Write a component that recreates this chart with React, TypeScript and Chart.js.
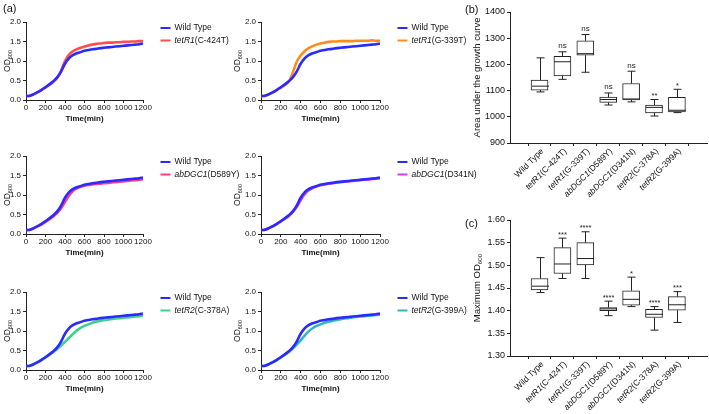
import React, { useEffect, useRef } from "react";
import { Chart, registerables } from "chart.js";
Chart.register(...registerables);

const FONT = "'Liberation Sans', Arial, Helvetica, sans-serif";
const INK = "#111";

// ---------- growth curve data (OD600 vs time) ----------
const timeMin = [0, 40, 80, 120, 160, 200, 240, 280, 320, 360, 400, 440, 480, 520, 560, 600, 640, 680, 720, 760, 800, 840, 880, 920, 960, 1000, 1040, 1080, 1120, 1160, 1200];
const wildType = [0.10, 0.11, 0.15, 0.20, 0.26, 0.33, 0.40, 0.48, 0.58, 0.73, 0.93, 1.07, 1.15, 1.20, 1.23, 1.26, 1.28, 1.30, 1.31, 1.33, 1.34, 1.35, 1.36, 1.37, 1.38, 1.39, 1.40, 1.41, 1.42, 1.43, 1.45];
const tetR1C424T = [0.10, 0.11, 0.15, 0.20, 0.26, 0.32, 0.39, 0.47, 0.57, 0.75, 1.00, 1.16, 1.25, 1.30, 1.34, 1.37, 1.40, 1.42, 1.44, 1.45, 1.46, 1.47, 1.47, 1.48, 1.48, 1.49, 1.49, 1.50, 1.50, 1.51, 1.51];
const tetR1G339T = [0.10, 0.11, 0.14, 0.19, 0.25, 0.31, 0.38, 0.47, 0.70, 0.98, 1.14, 1.25, 1.33, 1.38, 1.42, 1.45, 1.47, 1.49, 1.50, 1.50, 1.51, 1.51, 1.51, 1.51, 1.52, 1.52, 1.52, 1.52, 1.53, 1.52, 1.52];
const abDGC1D589Y = [0.10, 0.11, 0.15, 0.20, 0.25, 0.31, 0.38, 0.45, 0.54, 0.66, 0.82, 0.98, 1.10, 1.17, 1.21, 1.24, 1.26, 1.27, 1.28, 1.29, 1.30, 1.31, 1.32, 1.33, 1.34, 1.35, 1.36, 1.37, 1.38, 1.39, 1.40];
const abDGC1D341N = [0.10, 0.11, 0.15, 0.20, 0.26, 0.32, 0.39, 0.46, 0.56, 0.69, 0.87, 1.02, 1.12, 1.18, 1.22, 1.25, 1.27, 1.29, 1.30, 1.32, 1.33, 1.34, 1.35, 1.36, 1.37, 1.38, 1.39, 1.40, 1.41, 1.42, 1.43];
const tetR2C378A = [0.10, 0.11, 0.15, 0.20, 0.26, 0.32, 0.39, 0.46, 0.54, 0.63, 0.72, 0.82, 0.92, 1.01, 1.08, 1.13, 1.17, 1.21, 1.24, 1.26, 1.28, 1.29, 1.31, 1.32, 1.33, 1.34, 1.35, 1.36, 1.37, 1.38, 1.39];
const tetR2G399A = [0.10, 0.11, 0.15, 0.20, 0.26, 0.32, 0.39, 0.46, 0.55, 0.65, 0.76, 0.88, 0.99, 1.07, 1.13, 1.17, 1.21, 1.24, 1.26, 1.28, 1.30, 1.32, 1.33, 1.35, 1.36, 1.37, 1.38, 1.39, 1.40, 1.41, 1.42];

const mutantNames = ["tetR1(C-424T)", "tetR1(G-339T)", "abDGC1(D589Y)", "abDGC1(D341N)", "tetR2(C-378A)", "tetR2(G-399A)"];
const mutantSeries = [tetR1C424T, tetR1G339T, abDGC1D589Y, abDGC1D341N, tetR2C378A, tetR2G399A];
const mutantColors = ["#ff4d4d", "#ff8c1a", "#ff3d80", "#d43de8", "#3ccf8e", "#2fb6c4"];
const wildTypeColor = "#2a2aff";
const timeTicks = [0, 200, 400, 600, 800, 1000, 1200];
const odTicks = [0, 0.5, 1.0, 1.5, 2.0];

// ---------- box plot data ----------
const strains = ["Wild Type", "tetR1(C-424T)", "tetR1(G-339T)", "abDGC1(D589Y)", "abDGC1(D341N)", "tetR2(C-378A)", "tetR2(G-399A)"];

const aucMin = [1095, 1143, 1170, 1045, 1057, 1003, 1016];
const aucQ1 = [1102, 1156, 1235, 1055, 1064, 1015, 1019];
const aucMedian = [1117, 1210, 1241, 1066, 1068, 1036, 1025];
const aucQ3 = [1140, 1231, 1290, 1075, 1127, 1045, 1074];
const aucMax = [1225, 1248, 1314, 1091, 1174, 1066, 1105];
const aucSig = ["", "ns", "ns", "ns", "ns", "**", "*"];
const aucTicks = [900, 1000, 1100, 1200, 1300, 1400];

const maxMin = [1.440, 1.471, 1.471, 1.389, 1.409, 1.357, 1.374];
const maxQ1 = [1.446, 1.482, 1.501, 1.400, 1.412, 1.385, 1.401];
const maxMedian = [1.454, 1.503, 1.515, 1.404, 1.425, 1.392, 1.413];
const maxQ3 = [1.471, 1.539, 1.550, 1.407, 1.444, 1.403, 1.431];
const maxMax = [1.517, 1.560, 1.574, 1.421, 1.474, 1.409, 1.442];
const maxSig = ["", "***", "****", "****", "*", "****", "***"];
const maxTicks = [1.30, 1.35, 1.40, 1.45, 1.50, 1.55, 1.60];

// ---------- text helpers ----------
function splitName(name: string) {
  const m = /^([A-Za-z0-9]+)(\(.*\))$/.exec(name);
  if (m) return { it: m[1], rest: m[2] };
  return { it: "", rest: name };
}

function drawMixed(ctx: CanvasRenderingContext2D, name: string, x: number, y: number, size: number, align: "left" | "right") {
  const { it, rest } = splitName(name);
  const fi = `italic ${size}px ${FONT}`;
  const fn = `${size}px ${FONT}`;
  ctx.font = fi;
  const wi = it ? ctx.measureText(it).width : 0;
  ctx.font = fn;
  const wr = ctx.measureText(rest).width;
  const start = align === "left" ? x : x - wi - wr;
  ctx.textAlign = "left";
  ctx.textBaseline = "middle";
  if (it) {
    ctx.font = fi;
    ctx.fillText(it, start, y);
  }
  ctx.font = fn;
  ctx.fillText(rest, start + wi, y);
}

function drawSubTitle(ctx: CanvasRenderingContext2D, main: string, sub: string, cx: number, cy: number, size: number) {
  ctx.save();
  ctx.translate(cx, cy);
  ctx.rotate(-Math.PI / 2);
  ctx.fillStyle = INK;
  ctx.textBaseline = "middle";
  ctx.textAlign = "left";
  const fm = `${size}px ${FONT}`;
  const fs = `${Math.round(size * 0.65 * 10) / 10}px ${FONT}`;
  ctx.font = fm;
  const wm = ctx.measureText(main).width;
  ctx.font = fs;
  const ws = ctx.measureText(sub).width;
  const start = -(wm + ws) / 2;
  ctx.font = fm;
  ctx.fillText(main, start, 0);
  ctx.font = fs;
  ctx.fillText(sub, start + wm, size * 0.3);
  ctx.restore();
}

// ---------- plugins ----------
const growthDecor = {
  id: "growthDecor",
  afterDraw(chart: any, _a: any, opts: any) {
    const ctx = chart.ctx as CanvasRenderingContext2D;
    const ca = chart.chartArea;
    ctx.save();
    drawSubTitle(ctx, "OD", "600", opts.titleX, (ca.top + ca.bottom) / 2, 8.5);
    chart.data.datasets.forEach((ds: any, i: number) => {
      const y = ca.top + 6 + i * 12.5;
      const x0 = ca.right + 17.5;
      ctx.strokeStyle = ds.borderColor;
      ctx.lineWidth = 2;
      ctx.beginPath();
      ctx.moveTo(x0, y);
      ctx.lineTo(x0 + 10, y);
      ctx.stroke();
      ctx.fillStyle = INK;
      drawMixed(ctx, ds.label, x0 + 14, y, 8.5, "left");
    });
    ctx.restore();
  },
};

const boxDecor = {
  id: "boxDecor",
  afterDatasetsDraw(chart: any, _a: any, opts: any) {
    const ctx = chart.ctx as CanvasRenderingContext2D;
    const xs = chart.scales.x;
    const ys = chart.scales.y;
    const { mins, medians, q1s, q3s, maxs, sig } = opts;
    ctx.save();
    ctx.strokeStyle = "#222";
    ctx.lineWidth = 1;
    for (let i = 0; i < mins.length; i++) {
      const px = Math.round(xs.getPixelForValue(i)) + 0.5;
      const yMin = ys.getPixelForValue(mins[i]);
      const yMax = ys.getPixelForValue(maxs[i]);
      const yQ1 = ys.getPixelForValue(q1s[i]);
      const yQ3 = ys.getPixelForValue(q3s[i]);
      const yMed = ys.getPixelForValue(medians[i]);
      ctx.beginPath();
      ctx.moveTo(px, yQ3);
      ctx.lineTo(px, yMax);
      ctx.moveTo(px - 4, yMax);
      ctx.lineTo(px + 4, yMax);
      ctx.moveTo(px, yQ1);
      ctx.lineTo(px, yMin);
      ctx.moveTo(px - 4, yMin);
      ctx.lineTo(px + 4, yMin);
      ctx.moveTo(px - 8.5, yMed);
      ctx.lineTo(px + 8.5, yMed);
      ctx.stroke();
      if (sig[i]) {
        ctx.fillStyle = "#222";
        ctx.textAlign = "center";
        const isStar = sig[i].indexOf("*") >= 0;
        ctx.textBaseline = "alphabetic";
        ctx.font = `${isStar ? 7.5 : 8}px ${FONT}`;
        ctx.fillText(sig[i], px, yMax - (isStar ? 1.5 : 3.5));
      }
    }
    ctx.restore();
  },
  afterDraw(chart: any, _a: any, opts: any) {
    const ctx = chart.ctx as CanvasRenderingContext2D;
    const xs = chart.scales.x;
    const ca = chart.chartArea;
    ctx.save();
    ctx.fillStyle = INK;
    opts.labels.forEach((lab: string, i: number) => {
      const px = xs.getPixelForValue(i);
      ctx.save();
      ctx.translate(px + 3, ca.bottom + 7);
      ctx.rotate(-Math.PI / 4);
      drawMixed(ctx, lab, 0, 0, 8.5, "right");
      ctx.restore();
    });
    drawSubTitle(ctx, opts.title, opts.titleSub || "", opts.titleX, (ca.top + ca.bottom) / 2, 9.5);
    ctx.restore();
  },
};

// ---------- chart components ----------
function GrowthChart({ idx, left, top, padLeft, plotRight, W }: { idx: number; left: number; top: number; padLeft: number; plotRight: number; W: number }) {
  const ref = useRef<HTMLCanvasElement | null>(null);
  const H = 124;
  useEffect(() => {
    if (!ref.current) return;
    const mk = (arr: number[]) => timeMin.map((t, i) => ({ x: t, y: arr[i] }));
    const chart = new Chart(ref.current, {
      type: "line",
      data: {
        datasets: [
          { label: "Wild Type", data: mk(wildType), borderColor: wildTypeColor, backgroundColor: wildTypeColor, borderWidth: 2.6, pointRadius: 0, cubicInterpolationMode: "monotone" },
          { label: mutantNames[idx], data: mk(mutantSeries[idx]), borderColor: mutantColors[idx], backgroundColor: mutantColors[idx], borderWidth: 2.6, pointRadius: 0, cubicInterpolationMode: "monotone" },
        ],
      },
      options: {
        responsive: false,
        animation: false,
        layout: { padding: { left: padLeft, right: W - plotRight, top: 22, bottom: 0 } },
        scales: {
          x: {
            type: "linear",
            min: 0,
            max: 1200,
            afterBuildTicks: (s: any) => { s.ticks = timeTicks.map((v) => ({ value: v })); },
            ticks: { font: { family: FONT, size: 8 }, color: INK, padding: 0, maxRotation: 0, autoSkip: false, callback: (v: any) => String(v) },
            grid: { drawOnChartArea: false, tickLength: 3, color: "#222" },
            border: { color: "#222", width: 1 },
            title: { display: true, text: "Time(min)", color: INK, font: { family: FONT, size: 8, weight: "bold" }, padding: 0 },
            afterFit: (s: any) => { s.height = 24; },
          },
          y: {
            min: 0,
            max: 2,
            afterBuildTicks: (s: any) => { s.ticks = odTicks.map((v) => ({ value: v })); },
            ticks: { font: { family: FONT, size: 8 }, color: INK, padding: 2, callback: (v: any) => Number(v).toFixed(1) },
            grid: { drawOnChartArea: false, tickLength: 3, color: "#222" },
            border: { color: "#222", width: 1 },
            afterFit: (s: any) => { s.width = 18; },
          },
        },
        plugins: {
          legend: { display: false },
          tooltip: { enabled: false },
          growthDecor: { titleX: 8 },
        } as any,
      },
      plugins: [growthDecor],
    } as any);
    return () => chart.destroy();
  }, [idx, padLeft, plotRight, W]);
  return <canvas ref={ref} width={W} height={H} style={{ position: "absolute", left, top, width: W, height: H }} />;
}

function BoxChart({ top, height, padTop, xAxisH, yMin, yMax, ticks, dec, mins, q1s, medians, q3s, maxs, sig, title, titleSub }: any) {
  const ref = useRef<HTMLCanvasElement | null>(null);
  const W = 249;
  useEffect(() => {
    if (!ref.current) return;
    const chart = new Chart(ref.current, {
      type: "bar",
      data: {
        datasets: [
          {
            data: strains.map((_, i) => ({ x: i, y: [q1s[i], q3s[i]] })),
            backgroundColor: "#ffffff",
            borderColor: "#222",
            borderWidth: 1,
            borderSkipped: false,
            barThickness: 17,
          },
        ],
      },
      options: {
        responsive: false,
        animation: false,
        layout: { padding: { left: 20, right: 2, top: padTop, bottom: 0 } },
        scales: {
          x: {
            type: "linear",
            min: -0.675,
            max: 6.7,
            afterBuildTicks: (s: any) => { s.ticks = strains.map((_, i) => ({ value: i })); },
            ticks: { display: false },
            grid: { drawOnChartArea: false, tickLength: 3, color: "#222" },
            border: { color: "#222", width: 1 },
            afterFit: (s: any) => { s.height = xAxisH; },
          },
          y: {
            min: yMin,
            max: yMax,
            afterBuildTicks: (s: any) => { s.ticks = ticks.map((v: number) => ({ value: v })); },
            ticks: { font: { family: FONT, size: 9 }, color: INK, padding: 2, callback: (v: any) => Number(v).toFixed(dec) },
            grid: { drawOnChartArea: false, tickLength: 3, color: "#222" },
            border: { color: "#222", width: 1 },
            afterFit: (s: any) => { s.width = 30; },
          },
        },
        plugins: {
          legend: { display: false },
          tooltip: { enabled: false },
          boxDecor: { mins, q1s, medians, q3s, maxs, sig, labels: strains, title, titleSub, titleX: 17 },
        } as any,
      },
      plugins: [boxDecor],
    } as any);
    return () => chart.destroy();
  }, []);
  return <canvas ref={ref} width={W} height={height} style={{ position: "absolute", left: 460, top, width: W, height }} />;
}

const panelLabel = (text: string, left: number, top: number) => (
  <div style={{ position: "absolute", left, top, fontFamily: FONT, fontSize: 11, color: INK, lineHeight: "12px" }}>{text}</div>
);

export default function App() {
  const rows = [0, 134, 270];
  return (
    <div style={{ position: "fixed", left: 0, top: 0, width: 709, height: 414, background: "#fff", overflow: "hidden" }}>
      {rows.map((top, r) => (
        <React.Fragment key={r}>
          <GrowthChart idx={r * 2} left={0} top={top} padLeft={8} plotRight={143} W={245} />
          <GrowthChart idx={r * 2 + 1} left={230} top={top} padLeft={13} plotRight={150} W={250} />
        </React.Fragment>
      ))}
      <BoxChart top={0} height={210} padTop={12} xAxisH={67} yMin={900} yMax={1400} ticks={aucTicks} dec={0}
        mins={aucMin} q1s={aucQ1} medians={aucMedian} q3s={aucQ3} maxs={aucMax} sig={aucSig}
        title="Area under the growth curve" titleSub="" />
      <BoxChart top={205} height={209} padTop={15} xAxisH={58} yMin={1.3} yMax={1.6} ticks={maxTicks} dec={2}
        mins={maxMin} q1s={maxQ1} medians={maxMedian} q3s={maxQ3} maxs={maxMax} sig={maxSig}
        title="Maximum OD" titleSub="600" />
      {panelLabel("(a)", 3, 2)}
      {panelLabel("(b)", 465, 3)}
      {panelLabel("(c)", 465, 217)}
    </div>
  );
}
